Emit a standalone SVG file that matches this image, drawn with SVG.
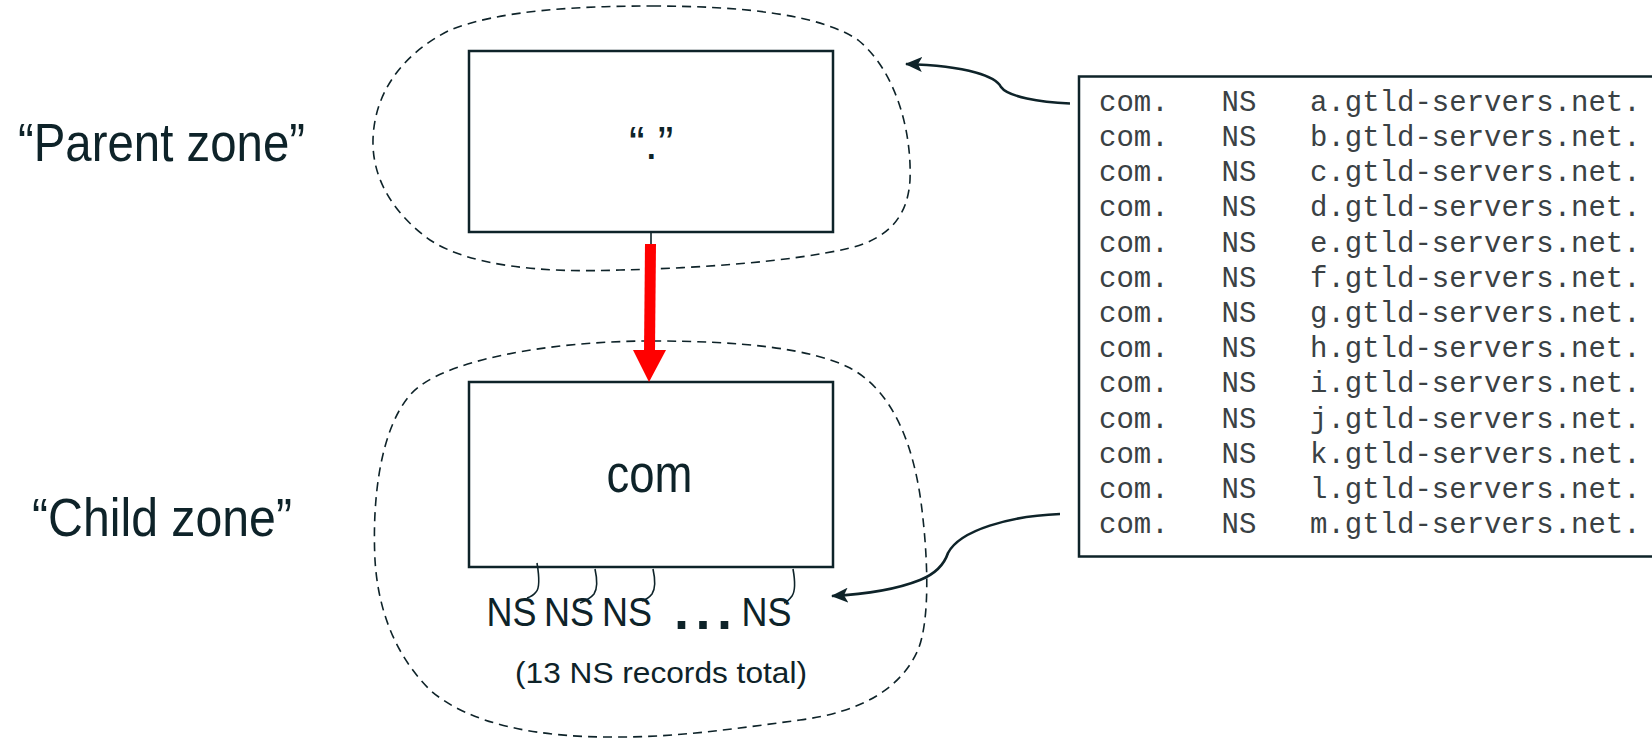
<svg xmlns="http://www.w3.org/2000/svg" width="1652" height="740" viewBox="0 0 1652 740">
<style>
.lbl{font-family:"Liberation Sans",Arial,sans-serif;fill:#0e2329}
.mono{font-family:"Liberation Mono","Courier New",monospace;font-size:29px;fill:#3a4144}
.zone{fill:none;stroke:#0e2329;stroke-width:1.6;stroke-dasharray:9 6}
.box{fill:#fff;stroke:#0e2329;stroke-width:2.5}
.conn{fill:none;stroke:#0e2329;stroke-width:2.6}
.hook{fill:none;stroke:#0e2329;stroke-width:1.6}
</style>
<defs>
<marker id="ah" markerUnits="userSpaceOnUse" viewBox="0 0 17 15" refX="16" refY="7.5" markerWidth="17" markerHeight="15" orient="auto">
<path d="M0,0 L17,7.5 L0,15 L4,7.5 Z" fill="#0e2329"/>
</marker>
</defs>
<rect width="1652" height="740" fill="#fff"/>

<g id="zone-parent">
<path class="zone" d="M652,6 C740,6 820,14 858,40 C895,70 912,130 910,180 C908,215 890,238 850,248 C790,262 700,268 620,270 C540,273 470,266 430,240 C395,215 372,180 373,140 C374,95 400,55 450,30 C500,10 580,6 652,6 Z"/>
</g>
<g id="zone-child">
<path class="zone" d="M652,341 C740,341 810,348 850,368 C895,392 915,450 922,510 C928,560 930,620 918,650 C900,690 860,712 800,720 C740,728 680,737 620,737 C540,738 470,725 430,690 C395,655 378,610 375,560 C372,500 380,430 410,395 C440,360 550,341 652,341 Z"/>
</g>

<g id="label-parent">
<text class="lbl" x="18" y="161" font-size="53" textLength="287" lengthAdjust="spacingAndGlyphs">“Parent zone”</text>
</g>
<g id="label-child">
<text class="lbl" x="32" y="536" font-size="53" textLength="260" lengthAdjust="spacingAndGlyphs">“Child zone”</text>
</g>

<g id="node-root">
<rect class="box" x="469" y="51" width="364" height="181"/>
<text class="lbl" x="629" y="159" font-size="47">“.”</text>
</g>

<g id="node-com">
<rect class="box" x="469" y="382" width="364" height="185"/>
<text class="lbl" x="606.5" y="491.5" font-size="51" textLength="86" lengthAdjust="spacingAndGlyphs">com</text>
</g>

<g id="ns-records">
<text class="lbl" x="486.5" y="626" font-size="40" textLength="50" lengthAdjust="spacingAndGlyphs">NS</text>
<text class="lbl" x="544" y="626" font-size="40" textLength="50" lengthAdjust="spacingAndGlyphs">NS</text>
<text class="lbl" x="602" y="626" font-size="40" textLength="50" lengthAdjust="spacingAndGlyphs">NS</text>
<text class="lbl" x="674" y="628.5" font-size="54" font-weight="bold" letter-spacing="6.5">...</text>
<text class="lbl" x="741.5" y="626" font-size="40" textLength="50" lengthAdjust="spacingAndGlyphs">NS</text>
<text class="lbl" x="515" y="683.3" font-size="30" textLength="292" lengthAdjust="spacingAndGlyphs">(13 NS records total)</text>
</g>

<g id="ns-listing">
<rect x="1079" y="76.5" width="620" height="480" fill="#fff" stroke="#0e2329" stroke-width="2.5"/>
<text class="mono" y="110.7"><tspan x="1099">com.</tspan><tspan x="1221.5">NS</tspan><tspan x="1310">a.gtld-servers.net.</tspan></text>
<text class="mono" y="145.9"><tspan x="1099">com.</tspan><tspan x="1221.5">NS</tspan><tspan x="1310">b.gtld-servers.net.</tspan></text>
<text class="mono" y="181.1"><tspan x="1099">com.</tspan><tspan x="1221.5">NS</tspan><tspan x="1310">c.gtld-servers.net.</tspan></text>
<text class="mono" y="216.3"><tspan x="1099">com.</tspan><tspan x="1221.5">NS</tspan><tspan x="1310">d.gtld-servers.net.</tspan></text>
<text class="mono" y="251.5"><tspan x="1099">com.</tspan><tspan x="1221.5">NS</tspan><tspan x="1310">e.gtld-servers.net.</tspan></text>
<text class="mono" y="286.7"><tspan x="1099">com.</tspan><tspan x="1221.5">NS</tspan><tspan x="1310">f.gtld-servers.net.</tspan></text>
<text class="mono" y="321.9"><tspan x="1099">com.</tspan><tspan x="1221.5">NS</tspan><tspan x="1310">g.gtld-servers.net.</tspan></text>
<text class="mono" y="357.1"><tspan x="1099">com.</tspan><tspan x="1221.5">NS</tspan><tspan x="1310">h.gtld-servers.net.</tspan></text>
<text class="mono" y="392.3"><tspan x="1099">com.</tspan><tspan x="1221.5">NS</tspan><tspan x="1310">i.gtld-servers.net.</tspan></text>
<text class="mono" y="427.5"><tspan x="1099">com.</tspan><tspan x="1221.5">NS</tspan><tspan x="1310">j.gtld-servers.net.</tspan></text>
<text class="mono" y="462.7"><tspan x="1099">com.</tspan><tspan x="1221.5">NS</tspan><tspan x="1310">k.gtld-servers.net.</tspan></text>
<text class="mono" y="497.9"><tspan x="1099">com.</tspan><tspan x="1221.5">NS</tspan><tspan x="1310">l.gtld-servers.net.</tspan></text>
<text class="mono" y="533.1"><tspan x="1099">com.</tspan><tspan x="1221.5">NS</tspan><tspan x="1310">m.gtld-servers.net.</tspan></text>
</g>

<g id="connectors">
<line x1="651" y1="232" x2="651" y2="245" stroke="#0e2329" stroke-width="1.6"/>
<line x1="650.5" y1="244" x2="649.5" y2="352" stroke="#ff0000" stroke-width="11"/>
<polygon points="633,350 666,350 649,382" fill="#ff0000"/>
<path class="hook" d="M537,563 C539,575 540,588 536,592 C533,596 530,597 527,598"/>
<path class="hook" d="M595,569 C597,578 598,588 594,594 C590,599 585,601 580,603"/>
<path class="hook" d="M653,569 C655,578 656,588 652,594 C648,599 645,600 642,601"/>
<path class="hook" d="M793,569 C795,580 796,590 792,596 C789,600 787,602 784,603"/>
<path class="conn" d="M1070,103.5 C1040,102 1008,97 1001,87 C996,77 970,66 906,64" marker-end="url(#ah)"/>
<path class="conn" d="M1060,514 C1010,516 960,530 948,553 C944,565 935,574 920,580 C900,588 870,594 832,596" marker-end="url(#ah)"/>
</g>
</svg>
